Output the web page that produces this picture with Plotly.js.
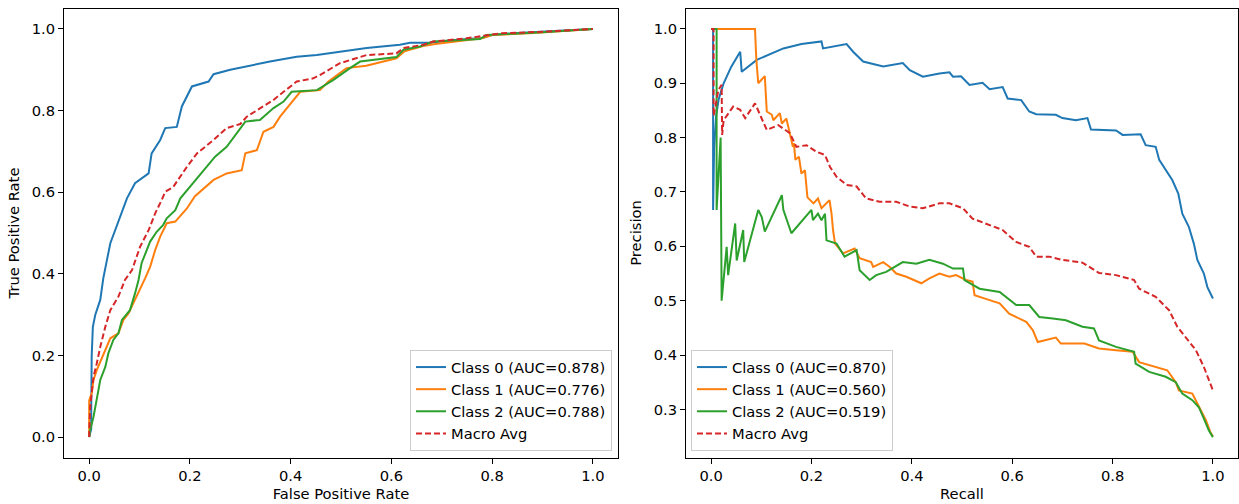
<!DOCTYPE html>
<html><head><meta charset="utf-8">
<script src="https://cdn.plot.ly/plotly-3.0.1.min.js"></script>
<style>html,body{margin:0;padding:0;background:#fff}#chart{width:1239px;height:504px}</style>
</head><body><div id="chart"></div>
<script>
// ---- ROC curves (FPR, TPR) ----
const rocClass0X = [0,0.004,0.004,0.005,0.0073,0.012,0.022,0.028,0.042,0.052,0.065,0.075,0.091,0.118,0.124,0.141,0.151,0.174,0.184,0.204,0.237,0.247,0.28,0.326,0.359,0.412,0.452,0.498,0.551,0.617,0.637,0.677,0.72,0.78,0.8,0.85,0.9,0.95,1.0];
const rocClass0Y = [0,0.02,0.06,0.2,0.27,0.299,0.336,0.389,0.475,0.507,0.548,0.585,0.622,0.646,0.695,0.728,0.757,0.760,0.81,0.859,0.871,0.889,0.90,0.912,0.92,0.932,0.936,0.944,0.953,0.961,0.966,0.966,0.972,0.978,0.985,0.99,0.993,0.996,1.0];

const rocClass1X = [0,0,0.005,0.0086,0.015,0.025,0.035,0.042,0.058,0.068,0.078,0.091,0.104,0.111,0.121,0.131,0.141,0.154,0.171,0.194,0.21,0.247,0.273,0.303,0.31,0.333,0.346,0.366,0.379,0.405,0.419,0.458,0.475,0.511,0.55,0.61,0.626,0.663,0.687,0.78,0.8,0.882,1.0];
const rocClass1Y = [0,0.09,0.107,0.14,0.164,0.193,0.221,0.242,0.254,0.287,0.303,0.336,0.368,0.389,0.417,0.458,0.491,0.524,0.528,0.56,0.59,0.630,0.646,0.654,0.695,0.703,0.748,0.760,0.785,0.826,0.846,0.85,0.871,0.904,0.91,0.928,0.945,0.958,0.963,0.977,0.985,0.99,1.0];

const rocClass2X = [0,0.002,0.0086,0.015,0.022,0.032,0.038,0.048,0.058,0.065,0.081,0.091,0.098,0.104,0.111,0.121,0.134,0.147,0.154,0.171,0.181,0.20,0.224,0.25,0.273,0.293,0.31,0.339,0.366,0.386,0.402,0.452,0.485,0.518,0.538,0.61,0.624,0.657,0.683,0.776,0.789,0.9,1.0];
const rocClass2Y = [0,0.017,0.05,0.091,0.14,0.172,0.205,0.238,0.254,0.287,0.311,0.352,0.385,0.426,0.450,0.479,0.503,0.52,0.536,0.556,0.585,0.613,0.646,0.687,0.711,0.744,0.773,0.777,0.806,0.822,0.846,0.850,0.875,0.904,0.920,0.931,0.949,0.957,0.969,0.975,0.985,0.992,1.0];

const rocMacroX = [0,0,0.002,0.0086,0.015,0.022,0.032,0.042,0.058,0.071,0.085,0.101,0.118,0.131,0.144,0.151,0.167,0.194,0.214,0.227,0.247,0.273,0.30,0.313,0.339,0.366,0.386,0.412,0.445,0.458,0.498,0.551,0.61,0.624,0.663,0.683,0.749,0.789,0.815,0.9,1.0];
const rocMacroY = [0,0.01,0.074,0.148,0.18,0.221,0.27,0.311,0.344,0.385,0.409,0.466,0.507,0.548,0.581,0.601,0.613,0.662,0.695,0.708,0.728,0.757,0.767,0.785,0.806,0.826,0.846,0.871,0.879,0.887,0.916,0.936,0.94,0.953,0.961,0.969,0.977,0.984,0.989,0.993,1.0];

// ---- Precision-Recall curves (Recall, Precision) ----
const prClass0R = [0,0.004,0.004,0.006,0.01,0.015,0.025,0.04,0.058,0.061,0.091,0.144,0.18,0.22,0.223,0.27,0.283,0.303,0.343,0.382,0.396,0.422,0.455,0.475,0.482,0.498,0.515,0.541,0.555,0.581,0.591,0.618,0.634,0.648,0.687,0.700,0.727,0.75,0.757,0.807,0.82,0.856,0.866,0.886,0.893,0.906,0.919,0.931,0.939,0.952,0.962,0.969,0.982,0.989,1.0];
const prClass0P = [1,1,0.667,0.78,0.84,0.87,0.9,0.93,0.958,0.921,0.943,0.964,0.972,0.977,0.964,0.972,0.958,0.94,0.931,0.937,0.924,0.912,0.918,0.920,0.912,0.913,0.897,0.901,0.889,0.893,0.872,0.869,0.848,0.843,0.842,0.836,0.832,0.836,0.815,0.813,0.805,0.806,0.786,0.783,0.759,0.740,0.722,0.697,0.660,0.636,0.605,0.575,0.550,0.525,0.504];

const prClass1R = [0,0.0875,0.09,0.094,0.107,0.111,0.121,0.124,0.137,0.141,0.15,0.157,0.163,0.165,0.168,0.175,0.18,0.187,0.192,0.204,0.213,0.22,0.236,0.24,0.243,0.247,0.263,0.286,0.296,0.319,0.323,0.343,0.356,0.369,0.389,0.419,0.435,0.455,0.475,0.488,0.508,0.521,0.525,0.555,0.575,0.594,0.628,0.641,0.651,0.687,0.697,0.744,0.773,0.807,0.840,0.853,0.886,0.909,0.926,0.932,0.959,0.969,0.986,0.995,1.0];
const prClass1P = [1,1,0.946,0.9,0.913,0.848,0.842,0.832,0.845,0.826,0.835,0.808,0.783,0.79,0.759,0.765,0.734,0.74,0.69,0.679,0.688,0.67,0.685,0.66,0.63,0.605,0.587,0.596,0.578,0.571,0.562,0.571,0.562,0.55,0.544,0.532,0.541,0.55,0.544,0.547,0.538,0.535,0.510,0.501,0.495,0.476,0.461,0.446,0.424,0.432,0.421,0.421,0.412,0.409,0.406,0.387,0.378,0.372,0.35,0.335,0.329,0.311,0.280,0.258,0.25];

const prClass2R = [0,0.011,0.011,0.016,0.019,0.021,0.031,0.034,0.048,0.051,0.064,0.066,0.094,0.101,0.107,0.141,0.144,0.16,0.2,0.203,0.213,0.22,0.227,0.23,0.25,0.266,0.29,0.296,0.316,0.329,0.349,0.382,0.409,0.435,0.462,0.482,0.502,0.505,0.535,0.575,0.608,0.634,0.654,0.681,0.707,0.740,0.763,0.773,0.807,0.843,0.846,0.873,0.906,0.926,0.939,0.959,0.972,0.982,0.992,1.0];
const prClass2P = [1,1,0.667,0.75,0.8,0.5,0.599,0.547,0.642,0.574,0.630,0.571,0.667,0.654,0.627,0.694,0.667,0.624,0.667,0.648,0.66,0.648,0.660,0.611,0.605,0.581,0.593,0.556,0.538,0.547,0.553,0.571,0.568,0.575,0.568,0.559,0.559,0.538,0.522,0.516,0.492,0.492,0.470,0.467,0.464,0.452,0.449,0.427,0.415,0.406,0.384,0.369,0.360,0.350,0.329,0.317,0.304,0.283,0.261,0.249];

const prMacroR = [0,0.005,0.005,0.0146,0.021,0.022,0.025,0.044,0.058,0.068,0.0875,0.111,0.134,0.157,0.17,0.19,0.21,0.227,0.237,0.25,0.27,0.29,0.309,0.336,0.369,0.396,0.422,0.455,0.475,0.502,0.521,0.555,0.581,0.608,0.634,0.648,0.674,0.700,0.740,0.773,0.807,0.843,0.853,0.886,0.913,0.929,0.946,0.966,0.982,0.992,1.0];
const prMacroP = [1,1,0.84,0.888,0.897,0.805,0.832,0.857,0.851,0.836,0.863,0.814,0.823,0.808,0.783,0.786,0.774,0.768,0.746,0.728,0.713,0.710,0.688,0.682,0.682,0.673,0.670,0.679,0.679,0.670,0.651,0.639,0.630,0.608,0.599,0.581,0.581,0.575,0.570,0.551,0.547,0.538,0.522,0.507,0.482,0.452,0.433,0.409,0.378,0.353,0.335];

const rocNames = ['Class 0 (AUC=0.878)','Class 1 (AUC=0.776)','Class 2 (AUC=0.788)','Macro Avg'];
const prNames = ['Class 0 (AUC=0.870)','Class 1 (AUC=0.560)','Class 2 (AUC=0.519)','Macro Avg'];
const colors = ['#1f77b4','#ff7f0e','#2ca02c','#d62728'];

const rocSets = [[rocClass0X,rocClass0Y],[rocClass1X,rocClass1Y],[rocClass2X,rocClass2Y],[rocMacroX,rocMacroY]];
const prSets = [[prClass0R,prClass0P],[prClass1R,prClass1P],[prClass2R,prClass2P],[prMacroR,prMacroP]];

const traces = [];
rocSets.forEach((s,i)=>{
  traces.push({x:s[0],y:s[1],type:'scatter',mode:'lines',name:rocNames[i],xaxis:'x',yaxis:'y',legend:'legend',
    line:{color:colors[i],width:2,dash:i===3?'6px,3px':'solid'}});
});
prSets.forEach((s,i)=>{
  traces.push({x:s[0],y:s[1],type:'scatter',mode:'lines',name:prNames[i],xaxis:'x2',yaxis:'y2',legend:'legend2',
    line:{color:colors[i],width:2,dash:i===3?'6px,3px':'solid'}});
});

const F = 'DejaVu Sans, sans-serif';
const FS = 14.7;
const axBase = {showgrid:false,zeroline:false,showline:true,mirror:true,linecolor:'#000',linewidth:1,
  ticks:'outside',ticklen:5,tickwidth:1,tickcolor:'#000',tickfont:{family:F,size:FS,color:'#000'},tickformat:'.1f'};

const legBase = {font:{family:F,size:FS,color:'#000'},bgcolor:'rgba(255,255,255,0.85)',bordercolor:'#cccccc',borderwidth:1,
  yanchor:'bottom',itemwidth:30};

const layout = {
  width:1239,height:504,margin:{l:0,r:0,t:0,b:0},paper_bgcolor:'#fff',plot_bgcolor:'#fff',
  font:{family:F,size:FS,color:'#000'},
  xaxis:Object.assign({},axBase,{domain:[64/1239,618/1239],range:[-0.05,1.05],tick0:0,dtick:0.2,anchor:'y',
    title:{text:'False Positive Rate',font:{family:F,size:FS,color:'#000'},standoff:5}}),
  yaxis:Object.assign({},axBase,{domain:[1-457.5/504,1-8.5/504],range:[-0.05,1.05],tick0:0,dtick:0.2,anchor:'x',
    title:{text:'True Positive Rate',font:{family:F,size:FS,color:'#000'},standoff:8}}),
  xaxis2:Object.assign({},axBase,{domain:[686/1239,1238/1239],range:[-0.05,1.05],tick0:0,dtick:0.2,anchor:'y2',
    title:{text:'Recall',font:{family:F,size:FS,color:'#000'},standoff:5}}),
  yaxis2:Object.assign({},axBase,{domain:[1-457.5/504,1-8.5/504],range:[0.2115,1.0375],tick0:0.3,dtick:0.1,anchor:'x2',
    title:{text:'Precision',font:{family:F,size:FS,color:'#000'},standoff:8}}),
  legend:Object.assign({},legBase,{x:612/1239,xanchor:'right',y:1-451/504}),
  legend2:Object.assign({},legBase,{x:691/1239,xanchor:'left',y:1-451/504}),
  showlegend:true
};

Plotly.newPlot('chart',traces,layout,{displayModeBar:false,staticPlot:true});
</script>
</body></html>
